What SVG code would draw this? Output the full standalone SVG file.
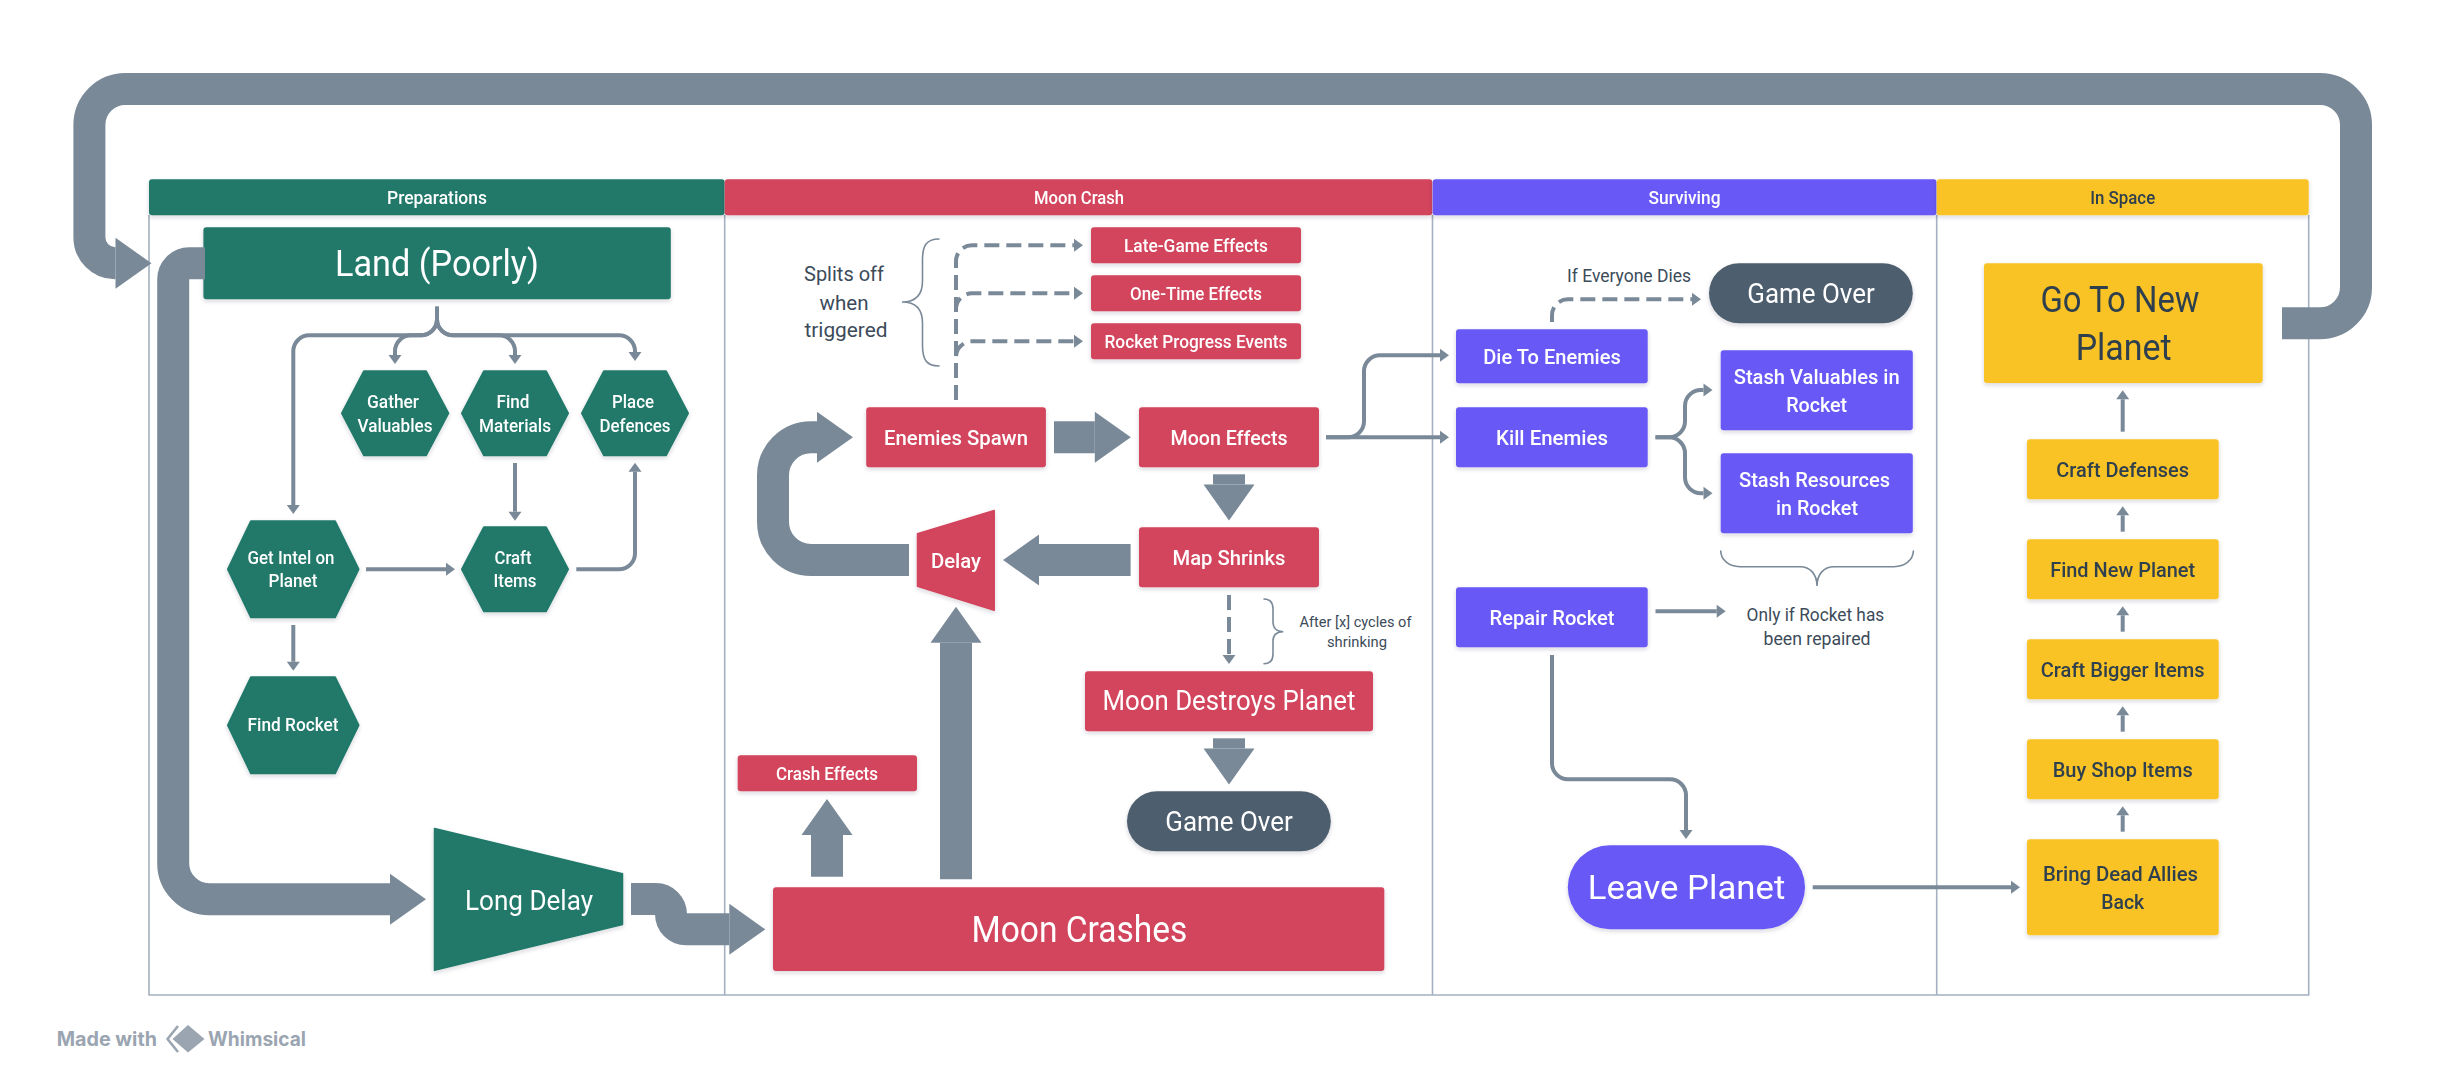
<svg xmlns="http://www.w3.org/2000/svg" width="2446" height="1081" viewBox="0 0 2446 1081">
<style>
text{font-family:Roboto,"Noto Sans",sans-serif;text-anchor:middle;font-weight:500;fill:#fff}
.big{font-weight:400}
.dk{fill:#2f3f4e}
.note{fill:#3c4b5a;font-weight:400}
.g{fill:#20796a}.r{fill:#d2445c}.p{fill:#6758f6}.y{fill:#f9c325}.o{fill:#4d5e6e}
.n{filter:url(#sh)}
.frame{fill:none;stroke:#a3b1c0;stroke-width:1.6}
.thick{fill:none;stroke:#7a8998;stroke-width:32;marker-end:url(#big)}
.thin{fill:none;stroke:#7a8998;stroke-width:4;marker-end:url(#small)}
.dash{fill:none;stroke:#7a8998;stroke-width:4;stroke-dasharray:15 7;marker-end:url(#small)}
.brace{fill:none;stroke:#7a8998;stroke-width:1.6;stroke-linecap:round}
.wm{font-family:Inter,sans-serif;font-weight:700;fill:#9aa5b1;text-anchor:start}
</style>
<defs>
<filter id="sh" x="-10%" y="-15%" width="120%" height="135%"><feDropShadow dx="0" dy="2" stdDeviation="2" flood-color="#1a2a3a" flood-opacity=".18"/></filter>
<marker id="big" markerUnits="userSpaceOnUse" markerWidth="38" markerHeight="54" viewBox="0 0 38 54" refX="1" refY="27" orient="auto"><path d="M1 1.5L37 27L1 52.5Z" fill="#7a8998"/></marker>
<marker id="small" markerUnits="userSpaceOnUse" markerWidth="11" markerHeight="14" viewBox="0 0 11 14" refX="1" refY="7" orient="auto"><path d="M1 .5L10 7L1 13.5Z" fill="#7a8998"/></marker>
</defs>

<g id="frames">
<path class="frame" d="M149 215V995H2308.7V215M724.7 215V995M1432.5 215V995M1936.7 215V995"/>
</g>

<g id="col-preparations" class="n"><rect class="g" x="149" y="179.3" width="575.6" height="36" rx="3"/><text x="437" y="203.5" font-size="17.5" textLength="100" lengthAdjust="spacingAndGlyphs">Preparations</text></g>
<g id="col-moon-crash" class="n"><rect class="r" x="724.7" y="179.3" width="707.6" height="36" rx="3"/><text x="1079" y="203.5" font-size="17.5" textLength="90" lengthAdjust="spacingAndGlyphs">Moon Crash</text></g>
<g id="col-surviving" class="n"><rect class="p" x="1432.7" y="179.3" width="503.8" height="36" rx="3"/><text x="1684.5" y="203.5" font-size="17.5" textLength="72" lengthAdjust="spacingAndGlyphs">Surviving</text></g>
<g id="col-in-space" class="n"><rect class="y" x="1936.7" y="179.3" width="372" height="36" rx="3"/><text class="dk" x="2122.7" y="203.5" font-size="17.5" textLength="65" lengthAdjust="spacingAndGlyphs">In Space</text></g>

<g id="land" class="n"><rect class="g" x="203.4" y="227.3" width="467.4" height="72" rx="3"/><text class="big" x="437" y="276" font-size="36" textLength="204" lengthAdjust="spacingAndGlyphs">Land (Poorly)</text></g>
<g id="gather" class="n"><path class="g" d="M364 371.3H426L448.3 413.3L426 455.3H364L342 413.3Z" stroke="#20796a" stroke-width="2" stroke-linejoin="round"/><text x="393" y="407.5" font-size="17.5" textLength="52" lengthAdjust="spacingAndGlyphs">Gather</text><text x="395" y="431.7" font-size="17.5" textLength="75" lengthAdjust="spacingAndGlyphs">Valuables</text></g>
<g id="find-materials" class="n"><path class="g" d="M484 371.3H546L568 413.3L546 455.3H484L462 413.3Z" stroke="#20796a" stroke-width="2" stroke-linejoin="round"/><text x="513" y="407.5" font-size="17.5" textLength="33" lengthAdjust="spacingAndGlyphs">Find</text><text x="515" y="431.7" font-size="17.5" textLength="72" lengthAdjust="spacingAndGlyphs">Materials</text></g>
<g id="place-defences" class="n"><path class="g" d="M604 371.3H666L688 413.3L666 455.3H604L582 413.3Z" stroke="#20796a" stroke-width="2" stroke-linejoin="round"/><text x="633" y="407.5" font-size="17.5" textLength="42" lengthAdjust="spacingAndGlyphs">Place</text><text x="635" y="431.7" font-size="17.5" textLength="71" lengthAdjust="spacingAndGlyphs">Defences</text></g>
<g id="get-intel" class="n"><path class="g" d="M251 521.3H335L358.5 569.3L335 617.3H251L228 569.3Z" stroke="#20796a" stroke-width="2" stroke-linejoin="round"/><text x="291" y="563.5" font-size="17.5" textLength="87" lengthAdjust="spacingAndGlyphs">Get Intel on</text><text x="293" y="587.3" font-size="17.5" textLength="49" lengthAdjust="spacingAndGlyphs">Planet</text></g>
<g id="craft-items" class="n"><path class="g" d="M484 527.3H546L568 569.3L546 611.3H484L462 569.3Z" stroke="#20796a" stroke-width="2" stroke-linejoin="round"/><text x="513" y="563.5" font-size="17.5" textLength="37" lengthAdjust="spacingAndGlyphs">Craft</text><text x="515" y="587.3" font-size="17.5" textLength="43" lengthAdjust="spacingAndGlyphs">Items</text></g>
<g id="find-rocket" class="n"><path class="g" d="M251 677.3H335L358.5 725.3L335 773.3H251L228 725.3Z" stroke="#20796a" stroke-width="2" stroke-linejoin="round"/><text x="293" y="731.3" font-size="17.5" textLength="91" lengthAdjust="spacingAndGlyphs">Find Rocket</text></g>
<g id="long-delay" class="n"><path class="g" d="M434.5 828.5L622.5 873.8V924.5L434.5 970.2Z" stroke="#20796a" stroke-width="1.5" stroke-linejoin="round"/><text class="big" x="529" y="909.5" font-size="27" textLength="128" lengthAdjust="spacingAndGlyphs">Long Delay</text></g>

<g id="late-game" class="n"><rect class="r" x="1091" y="227.3" width="210" height="36" rx="3"/><text x="1196" y="251.5" font-size="18" textLength="144" lengthAdjust="spacingAndGlyphs">Late-Game Effects</text></g>
<g id="one-time" class="n"><rect class="r" x="1091" y="275.3" width="210" height="36" rx="3"/><text x="1196" y="299.5" font-size="18" textLength="132" lengthAdjust="spacingAndGlyphs">One-Time Effects</text></g>
<g id="rocket-progress" class="n"><rect class="r" x="1091" y="323.3" width="210" height="36" rx="3"/><text x="1196" y="347.5" font-size="18" textLength="183" lengthAdjust="spacingAndGlyphs">Rocket Progress Events</text></g>
<g id="enemies-spawn" class="n"><rect class="r" x="866.2" y="407.3" width="179.7" height="60" rx="3"/><text x="956" y="444.6" font-size="21" textLength="144" lengthAdjust="spacingAndGlyphs">Enemies Spawn</text></g>
<g id="moon-effects" class="n"><rect class="r" x="1139" y="407.3" width="180" height="60" rx="3"/><text x="1229" y="444.6" font-size="21" textLength="117" lengthAdjust="spacingAndGlyphs">Moon Effects</text></g>
<g id="map-shrinks" class="n"><rect class="r" x="1139" y="527.3" width="180" height="60" rx="3"/><text x="1229" y="564.6" font-size="21" textLength="113" lengthAdjust="spacingAndGlyphs">Map Shrinks</text></g>
<g id="delay" class="n"><path class="r" d="M994.2 510.5V610.2L917.5 586.2V533.8Z" stroke="#d2445c" stroke-width="1.5" stroke-linejoin="round"/><text x="956" y="568" font-size="21" textLength="50" lengthAdjust="spacingAndGlyphs">Delay</text></g>
<g id="moon-destroys" class="n"><rect class="r" x="1085" y="671.3" width="288" height="60" rx="3"/><text class="big" x="1229" y="710.3" font-size="27" textLength="253" lengthAdjust="spacingAndGlyphs">Moon Destroys Planet</text></g>
<g id="game-over-1" class="n"><rect class="o" x="1127" y="791.3" width="203.8" height="60" rx="30"/><text class="big" x="1229" y="830.5" font-size="27" textLength="127.5" lengthAdjust="spacingAndGlyphs">Game Over</text></g>
<g id="crash-effects" class="n"><rect class="r" x="737.7" y="755.3" width="179.3" height="36" rx="3"/><text x="827" y="779.5" font-size="18" textLength="102" lengthAdjust="spacingAndGlyphs">Crash Effects</text></g>
<g id="moon-crashes" class="n"><rect class="r" x="773" y="887.3" width="611.3" height="83.7" rx="3"/><text class="big" x="1079.4" y="941.5" font-size="36" textLength="216" lengthAdjust="spacingAndGlyphs">Moon Crashes</text></g>

<g id="die" class="n"><rect class="p" x="1456" y="329.3" width="191.7" height="54" rx="3"/><text x="1552" y="363.5" font-size="21" textLength="137.6" lengthAdjust="spacingAndGlyphs">Die To Enemies</text></g>
<g id="kill" class="n"><rect class="p" x="1456" y="407.3" width="191.7" height="60" rx="3"/><text x="1552" y="444.6" font-size="21" textLength="112" lengthAdjust="spacingAndGlyphs">Kill Enemies</text></g>
<g id="repair" class="n"><rect class="p" x="1456" y="587.3" width="191.7" height="60" rx="3"/><text x="1552" y="624.6" font-size="21" textLength="125" lengthAdjust="spacingAndGlyphs">Repair Rocket</text></g>
<g id="game-over-2" class="n"><rect class="o" x="1709" y="263.3" width="203.8" height="60" rx="30"/><text class="big" x="1811" y="302.5" font-size="27" textLength="127.5" lengthAdjust="spacingAndGlyphs">Game Over</text></g>
<g id="stash-valuables" class="n"><rect class="p" x="1720.7" y="350.3" width="192.1" height="80" rx="3"/><text x="1816.7" y="383.5" font-size="21" textLength="166" lengthAdjust="spacingAndGlyphs">Stash Valuables in</text><text x="1816.7" y="411.5" font-size="21" textLength="61" lengthAdjust="spacingAndGlyphs">Rocket</text></g>
<g id="stash-resources" class="n"><rect class="p" x="1720.7" y="453.3" width="192.1" height="80" rx="3"/><text x="1814.5" y="486.8" font-size="21" textLength="151" lengthAdjust="spacingAndGlyphs">Stash Resources</text><text x="1817" y="514.8" font-size="21" textLength="82" lengthAdjust="spacingAndGlyphs">in Rocket</text></g>
<g id="leave-planet" class="n"><rect class="p" x="1567.8" y="845.3" width="237.2" height="84" rx="42"/><text class="big" x="1686.5" y="899" font-size="34" textLength="197.5" lengthAdjust="spacingAndGlyphs">Leave Planet</text></g>

<g id="go-to-new-planet" class="n"><rect class="y" x="1984" y="263.3" width="278.7" height="119.7" rx="3"/><text class="dk big" x="2120" y="312" font-size="36" textLength="159" lengthAdjust="spacingAndGlyphs">Go To New</text><text class="dk big" x="2123.7" y="360" font-size="36" textLength="96" lengthAdjust="spacingAndGlyphs">Planet</text></g>
<g id="craft-defenses" class="n"><rect class="y" x="2027" y="439.3" width="191.7" height="60" rx="3"/><text class="dk" x="2122.7" y="476.5" font-size="20.5" textLength="132.7" lengthAdjust="spacingAndGlyphs">Craft Defenses</text></g>
<g id="find-new-planet" class="n"><rect class="y" x="2027" y="539.3" width="191.7" height="60" rx="3"/><text class="dk" x="2122.7" y="576.5" font-size="20.5" textLength="145" lengthAdjust="spacingAndGlyphs">Find New Planet</text></g>
<g id="craft-bigger" class="n"><rect class="y" x="2027" y="639.3" width="191.7" height="60" rx="3"/><text class="dk" x="2122.7" y="676.5" font-size="20.5" textLength="164" lengthAdjust="spacingAndGlyphs">Craft Bigger Items</text></g>
<g id="buy-shop" class="n"><rect class="y" x="2027" y="739.3" width="191.7" height="60" rx="3"/><text class="dk" x="2122.7" y="776.5" font-size="20.5" textLength="140" lengthAdjust="spacingAndGlyphs">Buy Shop Items</text></g>
<g id="bring-dead" class="n"><rect class="y" x="2027" y="839.3" width="191.7" height="96" rx="3"/><text class="dk" x="2120.5" y="880.5" font-size="20.5" textLength="155" lengthAdjust="spacingAndGlyphs">Bring Dead Allies</text><text class="dk" x="2122.7" y="908.5" font-size="20.5" textLength="43" lengthAdjust="spacingAndGlyphs">Back</text></g>

<g id="connectors">
<path class="thick" d="M2282 323.3H2320A36 36 0 0 0 2356 287.3V125A36 36 0 0 0 2320 89H125.4A36 36 0 0 0 89.4 125V237.2A26 26 0 0 0 115 263.3H115.5"/>
<path class="thick" d="M205 263.3H189.2A16 16 0 0 0 173.2 279.3V863.2A36 36 0 0 0 209.2 899.2H390"/>
<path class="thick" d="M631 899H655.8A15.2 15.2 0 0 1 671 914.2A15.2 15.2 0 0 0 686.2 929.3H729.3"/>
<path class="thick" d="M827 876.7V835"/>
<path class="thick" d="M956 879.3V642.7"/>
<path class="thick" d="M1054 437.3H1094.8"/>
<path class="thick" d="M1229 474.3V484.5"/>
<path class="thick" d="M1229 738.3V748.5"/>
<path class="thick" d="M1130.6 560H1039"/>
<path class="thick" d="M909 560H811A38 38 0 0 1 773 522V475.3A38 38 0 0 1 811 437.3H817"/>

<path class="dash" d="M956 400V261.3A16 16 0 0 1 972 245.3H1074"/>
<path class="dash" d="M956 400V309.3A16 16 0 0 1 972 293.3H1074"/>
<path class="dash" d="M956 400V357.3A16 16 0 0 1 972 341.3H1074"/>
<path class="dash" d="M1229 595V655"/>
<path class="dash" d="M1552 322V315.3A16 16 0 0 1 1568 299.3H1692"/>

<path class="thin" d="M437 306.7V319.3A16 16 0 0 1 421 335.3H309.3A16 16 0 0 0 293.3 351.3V505"/>
<path class="thin" d="M437 306.7V319.3A16 16 0 0 1 421 335.3H411A16 16 0 0 0 395 351.3V355"/>
<path class="thin" d="M437 306.7V319.3A16 16 0 0 0 453 335.3H499A16 16 0 0 1 515 351.3V355"/>
<path class="thin" d="M437 306.7V319.3A16 16 0 0 0 453 335.3H619A16 16 0 0 1 635 351.3V352"/>
<path class="thin" d="M515 463V511.7"/>
<path class="thin" d="M576.3 569.3H619A16 16 0 0 0 635 553.3V471.7"/>
<path class="thin" d="M366 569.3H446"/>
<path class="thin" d="M293.3 625V661.7"/>
<path class="thin" d="M1326 437.3H1440"/>
<path class="thin" d="M1326 437.3H1348A16 16 0 0 0 1364 421.3V371.3A16 16 0 0 1 1380 355.3H1440"/>
<path class="thin" d="M1655.5 437.3H1669A16 16 0 0 0 1685 421.3V406A16 16 0 0 1 1701 390H1703.5"/>
<path class="thin" d="M1655.5 437.3H1669A16 16 0 0 1 1685 453.3V477.3A16 16 0 0 0 1701 493.3H1703.5"/>
<path class="thin" d="M1655.5 611.3H1716.7"/>
<path class="thin" d="M1552 655V763.3A16 16 0 0 0 1568 779.3H1670A16 16 0 0 1 1686 795.3V830"/>
<path class="thin" d="M1812.7 887.3H2011"/>
<path class="thin" d="M2122.7 431.7V399.3"/>
<path class="thin" d="M2122.7 531.7V515.3"/>
<path class="thin" d="M2122.7 631.7V615.3"/>
<path class="thin" d="M2122.7 731.7V715.3"/>
<path class="thin" d="M2122.7 831.7V815.3"/>
</g>

<g id="annotations">
<path class="brace" d="M939 239C926 239 922.5 246 922.5 260V281C922.5 295 916 302 902 302C916 302 922.5 309 922.5 323V345C922.5 359 926 366 939 366"/>
<text class="note" x="844" y="281" font-size="20.5" textLength="80" lengthAdjust="spacingAndGlyphs">Splits off</text>
<text class="note" x="844" y="310" font-size="20.5" textLength="49" lengthAdjust="spacingAndGlyphs">when</text>
<text class="note" x="846" y="337" font-size="20.5" textLength="83" lengthAdjust="spacingAndGlyphs">triggered</text>
<path class="brace" d="M1264 599C1270 599 1273 602 1273 609V622C1273 628 1277 631.7 1283.3 631.7C1277 631.7 1273 635 1273 641V654C1273 660 1270 663.7 1264 663.7"/>
<text class="note" x="1355.5" y="626.5" font-size="15" textLength="112" lengthAdjust="spacingAndGlyphs">After [x] cycles of</text>
<text class="note" x="1357" y="647" font-size="15" textLength="60" lengthAdjust="spacingAndGlyphs">shrinking</text>
<text class="note" x="1629" y="282" font-size="18" textLength="124" lengthAdjust="spacingAndGlyphs">If Everyone Dies</text>
<path class="brace" d="M1720.7 551C1721 560 1729 566.7 1740 566.7H1800C1810 566.7 1817 574 1817 586C1817 574 1824 566.7 1834 566.7H1894C1905 566.7 1913 560 1913.4 551"/>
<text class="note" x="1815.4" y="620.5" font-size="18" textLength="137.6" lengthAdjust="spacingAndGlyphs">Only if Rocket has</text>
<text class="note" x="1817" y="644.5" font-size="18" textLength="107" lengthAdjust="spacingAndGlyphs">been repaired</text>
</g>

<g id="watermark">
<text class="wm" x="56.7" y="1045.5" font-size="19.5" textLength="100.3" lengthAdjust="spacingAndGlyphs">Made with</text>
<path d="M178 1026L167.5 1039L178 1052" fill="none" stroke="#9aa5b1" stroke-width="2.6" stroke-linejoin="round"/>
<path d="M188 1025L204.5 1039L188 1052.5L172.5 1039Z" fill="#9aa5b1"/>
<text class="wm" x="208" y="1045.5" font-size="19.5" textLength="98" lengthAdjust="spacingAndGlyphs">Whimsical</text>
</g>
</svg>
